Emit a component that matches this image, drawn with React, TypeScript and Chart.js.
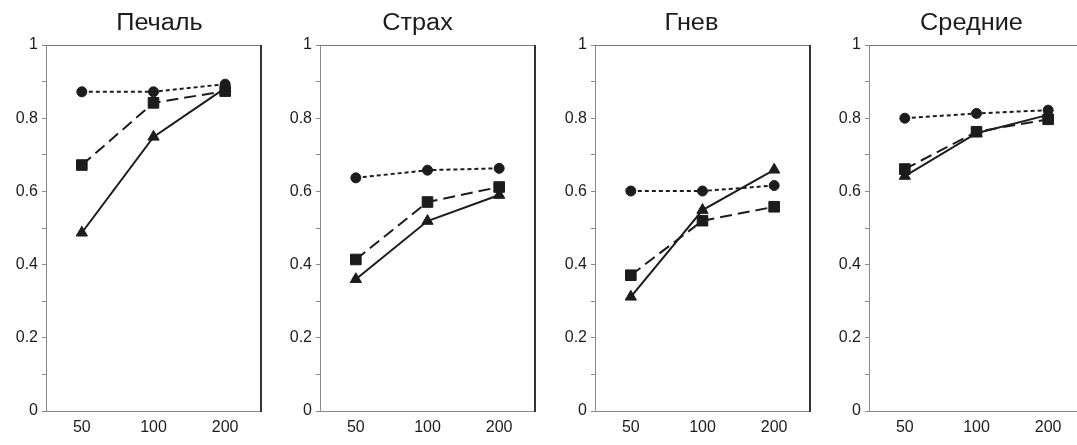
import React, { useEffect, useRef } from 'react';
import { Chart, registerables } from 'chart.js';

Chart.register(...registerables);

// ---- data ----
const categories = ['50', '100', '200'];
const panelTitles = ['Печаль', 'Страх', 'Гнев', 'Средние'];

const circleSadness = [0.872, 0.872, 0.893];
const squareSadness = [0.672, 0.842, 0.874];
const triangleSadness = [0.487, 0.749, 0.882];

const circleFear = [0.637, 0.658, 0.663];
const squareFear = [0.414, 0.571, 0.612];
const triangleFear = [0.36, 0.519, 0.59];

const circleAnger = [0.601, 0.601, 0.616];
const squareAnger = [0.371, 0.52, 0.558];
const triangleAnger = [0.312, 0.549, 0.659];

const circleMean = [0.8, 0.813, 0.822];
const squareMean = [0.661, 0.763, 0.797];
const triangleMean = [0.642, 0.759, 0.809];

const yTickValues = [0, 0.2, 0.4, 0.6, 0.8, 1];

const panelSeries = [
  { circle: circleSadness, square: squareSadness, triangle: triangleSadness },
  { circle: circleFear, square: squareFear, triangle: triangleFear },
  { circle: circleAnger, square: squareAnger, triangle: triangleAnger },
  { circle: circleMean, square: squareMean, triangle: triangleMean },
];

// ---- layout / style ----
const PANEL_LEFTS = [0, 274, 549, 823];
const CANVAS_W = 274;
const CANVAS_H = 445;
const FONT = '"Liberation Sans", Arial, sans-serif';
const INK = '#1c1c1c';
const AXIS_GRAY = '#8a8a8a';
const TITLE_DX = [6, -10, -11, -5];
const TITLE_STRETCH = 1.1;

const framePlugin = {
  id: 'frame',
  afterDraw(chart: any) {
    const { ctx, chartArea } = chart;
    const { left, right, top, bottom } = chartArea;
    ctx.save();
    ctx.strokeStyle = '#7a7a7a';
    ctx.lineWidth = 1;
    ctx.beginPath();
    ctx.moveTo(left, top + 0.5);
    ctx.lineTo(right, top + 0.5);
    ctx.stroke();
    ctx.strokeStyle = '#333';
    ctx.lineWidth = 2;
    ctx.beginPath();
    ctx.moveTo(right, top);
    ctx.lineTo(right, bottom + 1);
    ctx.stroke();
    ctx.restore();
  },
};

const titlePlugin = {
  id: 'panelTitle',
  afterDraw(chart: any, _args: any, opts: any) {
    const { ctx, chartArea } = chart;
    const cx = (chartArea.left + chartArea.right) / 2 + (opts.dx || 0);
    ctx.save();
    ctx.translate(cx, 30);
    ctx.scale(TITLE_STRETCH, 1);
    ctx.font = `23px ${FONT}`;
    ctx.fillStyle = INK;
    ctx.textAlign = 'center';
    ctx.textBaseline = 'alphabetic';
    ctx.fillText(opts.text, 0, 0);
    ctx.restore();
  },
};

function Panel({ index }: { index: number }) {
  const ref = useRef<HTMLCanvasElement | null>(null);
  useEffect(() => {
    const s = panelSeries[index];
    const chart = new Chart(ref.current as HTMLCanvasElement, {
      type: 'line',
      data: {
        labels: categories,
        datasets: [
          {
            data: s.triangle,
            borderColor: INK,
            backgroundColor: INK,
            borderWidth: 2,
            pointStyle: 'triangle',
            pointRadius: 6.5,
            pointBorderWidth: 1,
            pointHoverRadius: 6.5,
          },
          {
            data: s.square,
            borderColor: INK,
            backgroundColor: INK,
            borderWidth: 2,
            borderDash: [12, 6],
            pointStyle: 'rect',
            pointRadius: 7.5,
            pointBorderWidth: 1,
            pointHoverRadius: 7.5,
          },
          {
            data: s.circle,
            borderColor: INK,
            backgroundColor: INK,
            borderWidth: 2,
            borderDash: [4, 3],
            pointStyle: 'circle',
            pointRadius: 5,
            pointBorderWidth: 1,
            pointHoverRadius: 5,
          },
        ],
      },
      options: {
        responsive: false,
        animation: false,
        events: [],
        layout: { padding: { top: 45, right: 13, left: 0, bottom: 0 } },
        plugins: {
          legend: { display: false },
          tooltip: { enabled: false },
          title: { display: false },
          panelTitle: { text: panelTitles[index], dx: TITLE_DX[index] },
        } as any,
        scales: {
          x: {
            type: 'category',
            offset: true,
            grid: { display: false, drawTicks: false },
            border: { display: true, color: AXIS_GRAY, width: 1 },
            ticks: { color: INK, font: { family: FONT, size: 16 }, padding: 7, maxRotation: 0 },
            afterFit: (scale: any) => {
              scale.height = 34;
            },
          },
          y: {
            min: 0,
            max: 1,
            grid: {
              drawOnChartArea: false,
              drawTicks: true,
              tickLength: 4,
              color: AXIS_GRAY,
            },
            border: { display: true, color: AXIS_GRAY, width: 1 },
            afterBuildTicks: (scale: any) => {
              const vals: number[] = [];
              for (let i = 0; i <= 10; i++) vals.push(i / 10);
              scale.ticks = vals.map((v) => ({ value: v }));
            },
            ticks: {
              color: INK,
              font: { family: FONT, size: 16 },
              padding: 4,
              autoSkip: false,
              callback: (v: any) => {
                const n = Number(v);
                const match = yTickValues.find((t) => Math.abs(t - n) < 1e-6);
                if (match === undefined) return '';
                return match === 0 || match === 1 ? String(match) : match.toFixed(1);
              },
            },
            afterFit: (scale: any) => {
              scale.width = 46;
            },
          },
        },
      } as any,
      plugins: [framePlugin, titlePlugin],
    });
    return () => chart.destroy();
  }, [index]);
  return (
    <div style={{ position: 'absolute', left: PANEL_LEFTS[index], top: 0, width: CANVAS_W, height: CANVAS_H }}>
      <canvas ref={ref} width={CANVAS_W} height={CANVAS_H} style={{ display: 'block' }} />
    </div>
  );
}

export default function App() {
  return (
    <div
      style={{
        position: 'fixed',
        left: 0,
        top: 0,
        width: 1077,
        height: 445,
        overflow: 'hidden',
        background: '#fff',
      }}
    >
      {[0, 1, 2, 3].map((i) => (
        <Panel key={i} index={i} />
      ))}
    </div>
  );
}
